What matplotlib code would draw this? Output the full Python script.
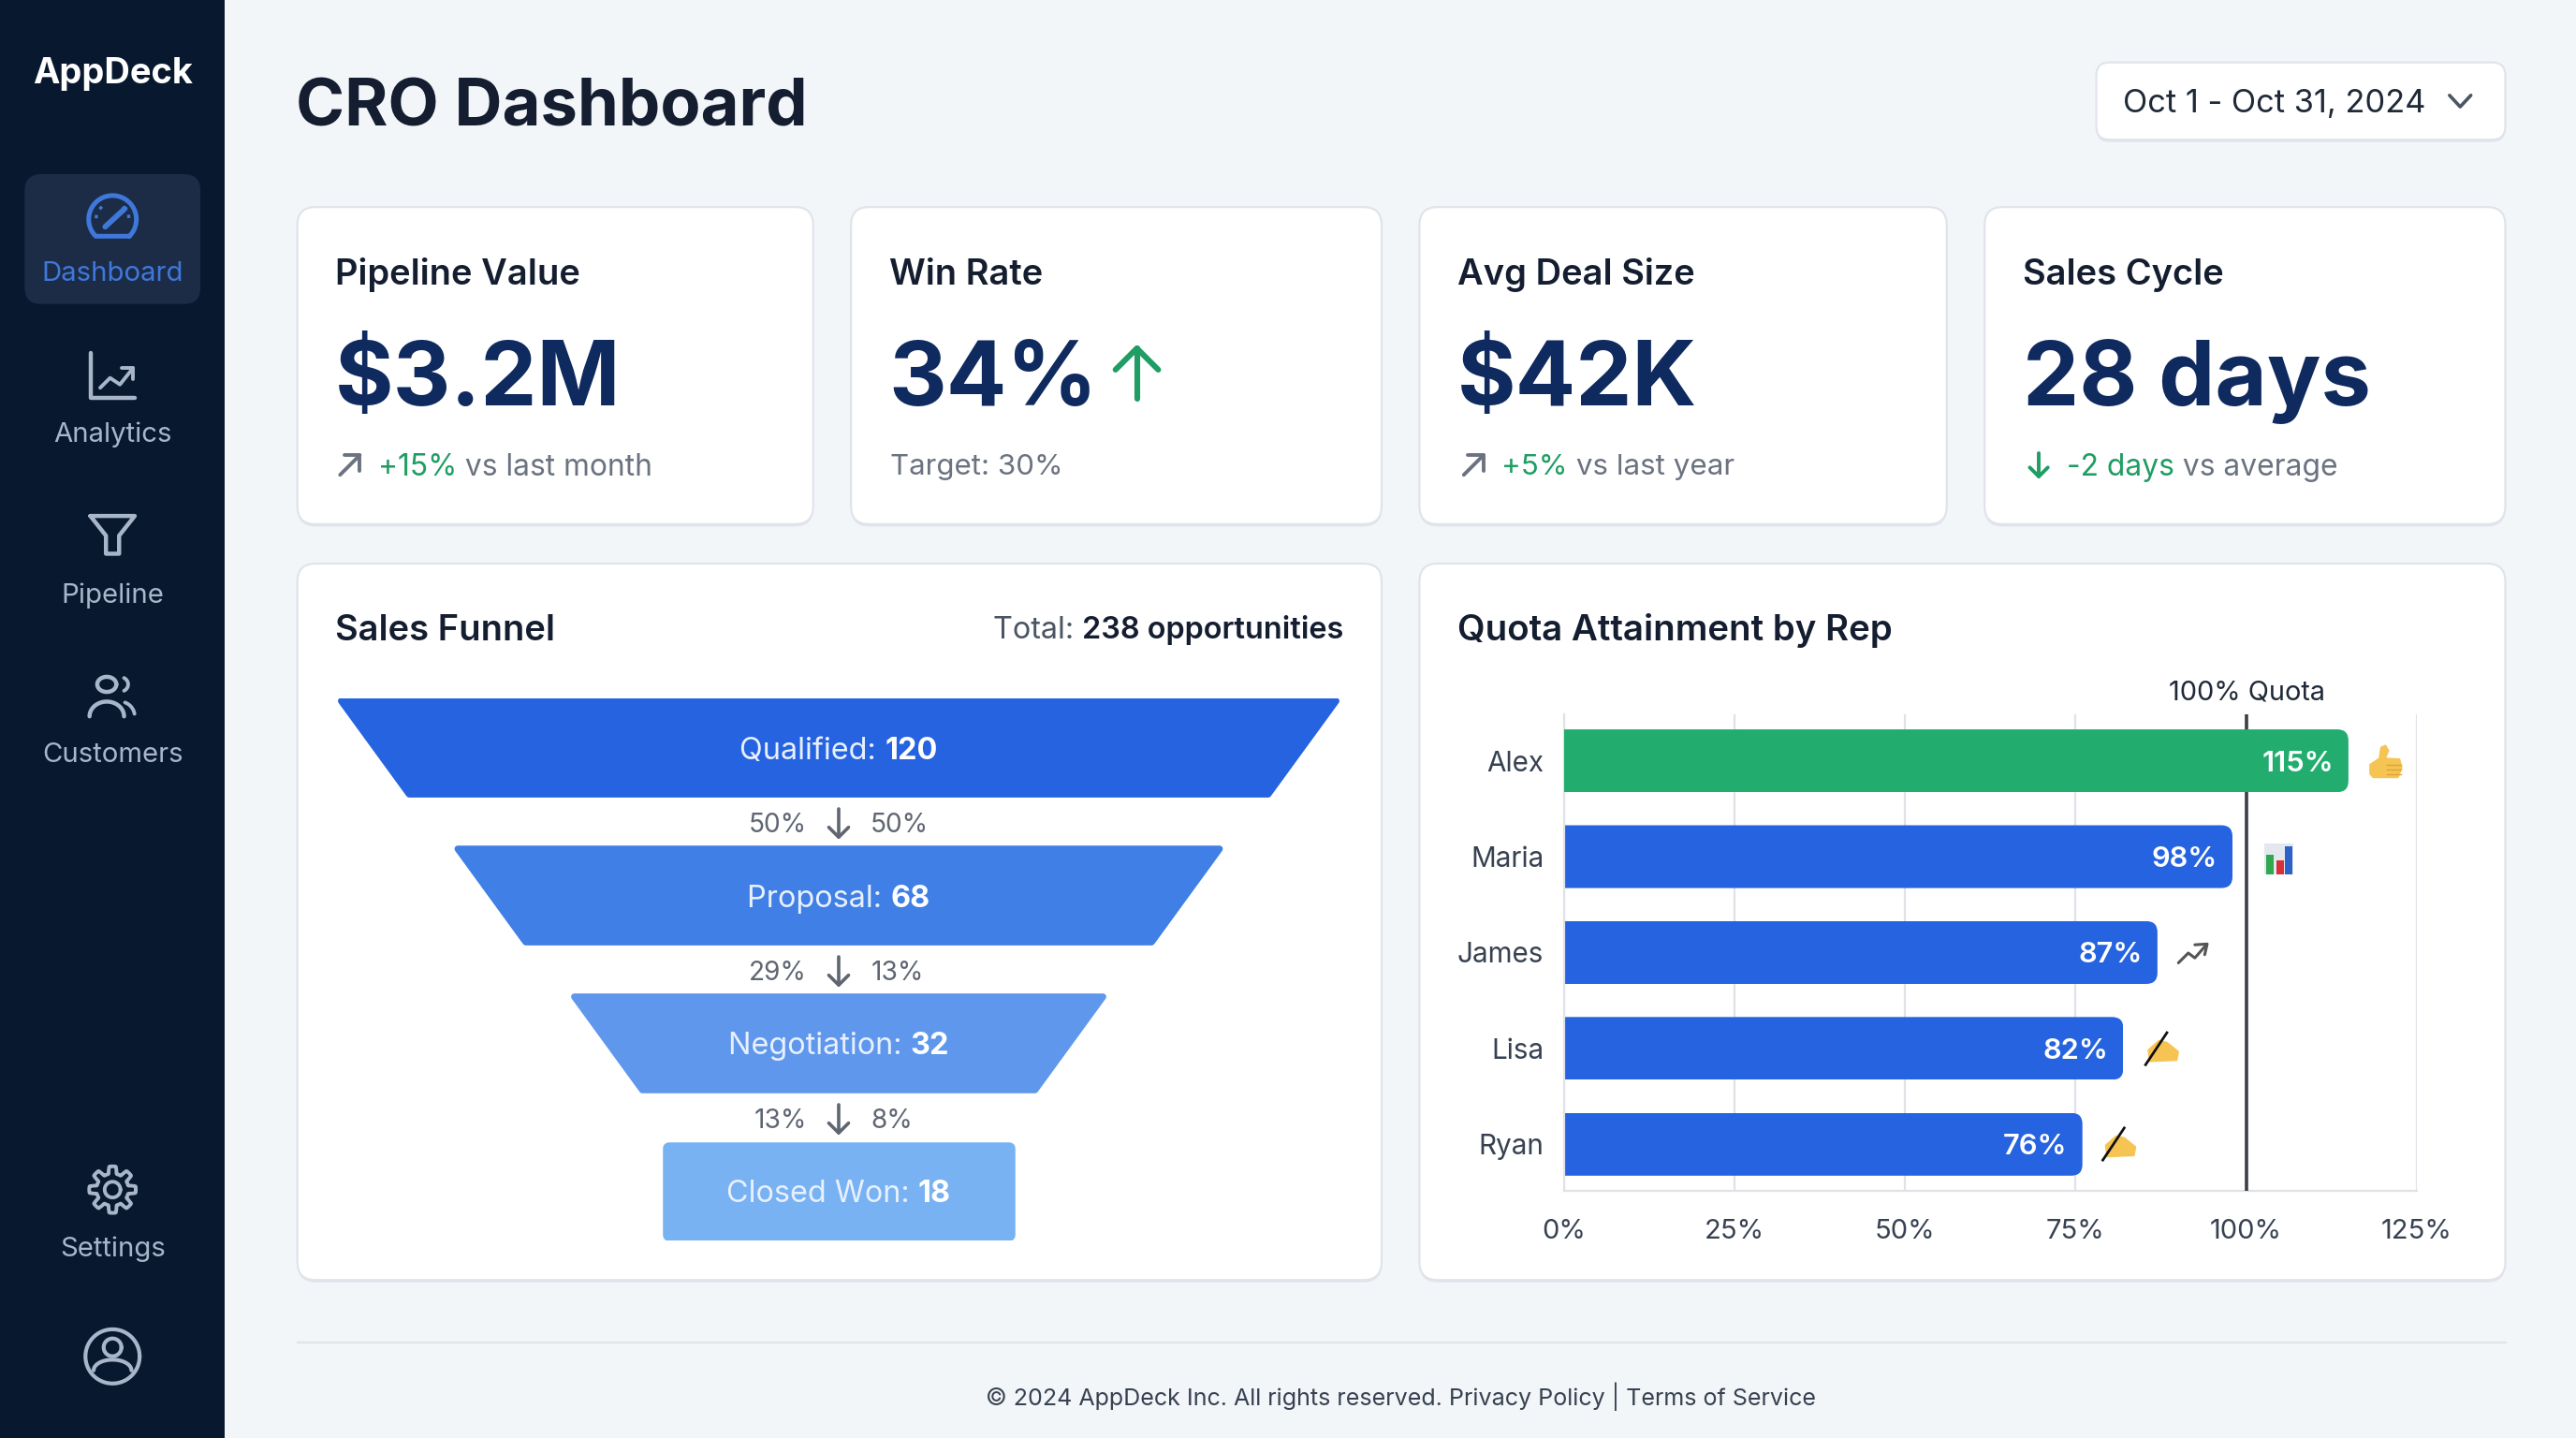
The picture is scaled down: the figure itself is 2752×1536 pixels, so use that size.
import matplotlib
matplotlib.use("Agg")
import matplotlib.pyplot as plt
import numpy as np
from matplotlib.patches import FancyBboxPatch, Polygon, Rectangle
from matplotlib.transforms import IdentityTransform

plt.rcParams["font.family"] = ["Inter", "Roboto", "DejaVu Sans"]

# chart values
rep_names = ["Alex", "Maria", "James", "Lisa", "Ryan"]
rep_attainment = [115, 98, 87, 82, 76]
quota_ticks = [0, 25, 50, 75, 100, 125]

funnel_stages = ["Qualified", "Proposal", "Negotiation", "Closed Won"]
funnel_counts = [120, 68, 32, 18]
funnel_rate_left = ["50%", "29%", "13%"]
funnel_rate_right = ["50%", "13%", "8%"]

kpi_titles = ["Pipeline Value", "Win Rate", "Avg Deal Size", "Sales Cycle"]
kpi_values = ["$3.2M", "34%", "$42K", "28 days"]

nav_labels = ["Dashboard", "Analytics", "Pipeline", "Customers", "Settings"]

W, H = 1568, 1536 / (2752 / 1568)
NAVY = "#0f2a5f"
INK = "#141e30"
GREY = "#6b7280"
GREEN = "#1f9d63"
BLUE = "#2563e0"
ICON = "#a9b6ca"

fig = plt.figure(figsize=(27.52, 15.36), dpi=100, facecolor="#f3f6f9")
root = fig.add_axes([0, 0, 1, 1])
root.set_xlim(0, W)
root.set_ylim(H, 0)
root.axis("off")

# labels and small marks that sit on top of the inset axes
over = fig.add_axes([0, 0, 1, 1], zorder=10)
over.set_xlim(0, W)
over.set_ylim(H, 0)
over.axis("off")
over.patch.set_alpha(0)


def fs(size):
    # size in view units to points
    return size * (2752 / 1568) * 0.72


def put(x, y, s, size, color=INK, weight="normal", ha="left", ax=None, **kw):
    target = ax if ax is not None else root
    return target.text(x, y, s, fontsize=fs(size), color=color, fontweight=weight,
                       ha=ha, va="center_baseline", **kw)


def runs(x, y, parts, size, center=False):
    """Writes differently styled pieces of text one after the other."""
    renderer = fig.canvas.get_renderer()
    scale = W / 2752
    widths = []
    for s, color, weight in parts:
        t = over.text(0, 0, s.replace(" ", "\u00a0"), fontsize=fs(size), fontweight=weight)
        widths.append(t.get_window_extent(renderer).width * scale)
        t.remove()
    if center:
        x = x - sum(widths) / 2
    for (s, color, weight), w in zip(parts, widths):
        over.text(x, y, s.replace(" ", "\u00a0"), fontsize=fs(size), color=color,
                  fontweight=weight, ha="left", va="center_baseline")
        x += w


def stroke(xs, ys, color=ICON, lw=3.2, **kw):
    over.plot(xs, ys, color=color, lw=lw, solid_capstyle="round", solid_joinstyle="round", **kw)


def arc(cx, cy, r, a0, a1, ry=None):
    t = np.radians(np.linspace(a0, a1, 60))
    return cx + r * np.cos(t), cy - (ry if ry else r) * np.sin(t)


def card(x0, y0, x1, y1, rad=11):
    shadow = FancyBboxPatch((x0, y0 + 1.5), x1 - x0, y1 - y0,
                            boxstyle=f"round,pad=0,rounding_size={rad}",
                            fc="#c4ccd6", ec="none", alpha=0.35)
    root.add_patch(shadow)
    root.add_patch(FancyBboxPatch((x0, y0), x1 - x0, y1 - y0,
                                  boxstyle=f"round,pad=0,rounding_size={rad}",
                                  fc="white", ec="#e0e4ea", lw=1.6))


def arrow_up(x, y, h, color, lw=3.0, head=None):
    head = head if head else h * 0.33
    stroke([x, x], [y, y - h], color, lw)
    stroke([x - head, x, x + head], [y - h + head, y - h, y - h + head], color, lw)


def arrow_down(x, y, h, color, lw=2.6, head=None):
    head = head if head else h * 0.33
    stroke([x, x], [y - h, y], color, lw)
    stroke([x - head, x, x + head], [y - head, y, y - head], color, lw)


def arrow_ne(x, y, size, color, lw=2.8):
    stroke([x, x + size], [y, y - size], color, lw)
    stroke([x + size * 0.2, x + size, x + size], [y - size, y - size, y - size * 0.2], color, lw)


# sidebar
root.add_patch(Rectangle((0, 0), 137, H, fc="#08182f", ec="none"))
put(68.5, 43, "AppDeck", 21.7, "white", "bold", ha="center")
root.add_patch(FancyBboxPatch((15, 106), 107, 79, boxstyle="round,pad=0,rounding_size=10",
                              fc="#1c2c47", ec="none"))
nav_y = [165, 263, 361, 458, 758.5]
for label, y, col in zip(nav_labels, nav_y, ["#3f78da"] + [ICON] * 4):
    put(68.5, y, label, 16.7, col, ha="center")

# dashboard gauge icon
gx, gy = arc(68.5, 133.5, 14.5, -45, 225)
stroke(np.r_[gx, gx[0]], np.r_[gy, gy[0]], "#3f78da", 3.6)
stroke([64, 76], [138, 127], "#3f78da", 4.2)
for a in [45, 90, 135, 170, 10]:
    tx, ty = arc(68.5, 133.5, 10, a, a + 1)
    over.plot(tx, ty, color="#3f78da", lw=2.4)
# analytics icon
stroke([55, 55, 82], [215, 242, 242])
stroke([61, 67, 73, 81], [236, 230, 234, 224], lw=2.8)
stroke([74, 81, 81], [224, 224, 231], lw=2.8)
# pipeline icon
stroke([55, 82, 72.5, 72.5, 64.5, 64.5, 55], [314, 314, 326, 337, 337, 326, 314])
# customers icon
hx, hy = arc(65, 416.5, 5.8, 0, 360, ry=4.6)
stroke(hx, hy)
sx, sy = arc(65, 436, 10.5, 0, 180, ry=9)
stroke(sx, sy)
sx, sy = arc(73, 416.5, 5, -60, 60, ry=4.5)
stroke(sx, sy, lw=2.8)
sx, sy = arc(73, 436, 9, 10, 70, ry=9)
stroke(sx, sy, lw=2.8)
# settings icon, gear outline
t = np.linspace(0, 2 * np.pi, 257)
r = 12 + 2.2 * np.clip(np.cos(8 * t) * 2.4, -1, 1)
stroke(68.5 + r * np.cos(t), 724 - r * np.sin(t), lw=2.8)
hx, hy = arc(68.5, 724, 4.8, 0, 360)
stroke(hx, hy, lw=2.8)
# profile icon
hx, hy = arc(68.5, 825.5, 16.5, 0, 360)
stroke(hx, hy, lw=3.0)
hx, hy = arc(68.5, 820, 5.4, 0, 360)
stroke(hx, hy, lw=3.0)
sx, sy = arc(68.5, 834, 11.5, 0, 180, ry=6.5)
stroke(sx, sy, lw=3.0)

# header
put(180, 62, "CRO Dashboard", 40.2, INK, "bold")
card(1276, 38, 1525, 85, rad=8)
put(1292, 61.5, "Oct 1 - Oct 31, 2024", 19.6, "#1f2937")
stroke([1491, 1497.5, 1504], [58, 65, 58], "#4b5563", 2.6)

# kpi cards
kpi_x = [(181, 495), (518, 841), (864, 1185), (1208, 1525)]
for (x0, x1), title, value in zip(kpi_x, kpi_titles, kpi_values):
    card(x0, 126, x1, 319)
    put(x0 + 23, 165, title, 21.7, INK, "semibold")
    put(x0 + 23, 226.5, value, 54.5, NAVY, "bold")

arrow_ne(207, 289, 12, "#6b7280")
runs(230, 282.5, [("+15%", GREEN, "normal"), (" vs last month", GREY, "normal")], 18.1)
arrow_up(692, 243, 31, "#1f9d63", lw=4.4, head=13)
put(542, 282.5, "Target: 30%", 17.8, GREY)
arrow_ne(891, 289, 12, "#6b7280")
runs(914, 282.5, [("+5%", GREEN, "normal"), (" vs last year", GREY, "normal")], 17.9)
arrow_down(1241, 290, 14, GREEN, lw=2.8, head=5.5)
runs(1258, 282.5, [("-2 days", GREEN, "normal"), (" vs average", GREY, "normal")], 18.1)

# funnel panel
card(181, 343, 841, 779)
put(204, 381.5, "Sales Funnel", 21.7, INK, "semibold")
runs(604.5, 381.5, [("Total: ", "#4b5563", "normal"), ("238 opportunities", INK, "semibold")], 18.5)

fun_ax = fig.add_axes([204 / W, 1 - 755 / H, 613 / W, 330 / H])
fun_ax.set_xlim(-1, 1)
fun_ax.set_ylim(3.667, 0)
fun_ax.axis("off")
fun_colors = ["#2563e0", "#3f7fe6", "#5f97ec", "#78b2f3"]
for i, (stage, count, color) in enumerate(zip(funnel_stages, funnel_counts, fun_colors)):
    if i < 3:
        top = 1 - 0.2315 * i - 0.012
        bottom = top - 0.135
        inset, lw = 0.018, 5
    else:
        # last tier is a plain rounded box
        top = bottom = 0.338
        inset, lw = 0.04, 9
    fun_ax.add_patch(Polygon([(-top, i + inset), (top, i + inset),
                              (bottom, i + 0.667 - inset), (-bottom, i + 0.667 - inset)],
                             closed=True, fc=color, ec=color, lw=lw, joinstyle="round"))
    y_view = 425 + 90 * i + 30
    runs(510.5, y_view, [(f"{stage}: ", "#e8f0fd", "normal"), (str(count), "white", "bold")],
         18.5, center=True)
for i, (left, right) in enumerate(zip(funnel_rate_left, funnel_rate_right)):
    y_view = 500.5 + 90 * i
    put(491, y_view, left, 16, "#5f6672", ha="right", ax=over)
    put(530, y_view, right, 16, "#5f6672", ax=over)
    arrow_down(510.5, y_view + 9, 17, "#5f6672", lw=2.6, head=6)

# quota panel
card(864, 343, 1525, 779)
put(887, 381.5, "Quota Attainment by Rep", 21.9, INK, "semibold")
put(1367.5, 420, "100% Quota", 16.5, "#1f2937", ha="center")

ax = fig.add_axes([952 / W, 1 - 725 / H, (1471 - 952) / W, (725 - 435) / H])
ax.patch.set_alpha(0)
ax.set_xlim(0, 125)
ax.set_ylim(4.49, -0.48)
ax.set_xticks(quota_ticks)
ax.set_xticklabels([f"{q}%" for q in quota_ticks], fontsize=fs(16.6), color="#374151")
ax.set_yticks(range(len(rep_names)))
ax.set_yticklabels(rep_names, fontsize=fs(16.9), color="#374151")
ax.tick_params(axis="y", length=0, pad=15.5)
ax.tick_params(axis="x", length=0, pad=21)
ax.grid(axis="x", color="#dfe2e7", lw=1.6)
ax.set_axisbelow(True)
for side in ["top", "right"]:
    ax.spines[side].set_visible(False)
for side in ["left", "bottom"]:
    ax.spines[side].set_color("#dfe2e7")
    ax.spines[side].set_linewidth(1.6)

bar_colors = ["#22ad6f"] + [BLUE] * 4
bars = ax.barh(range(len(rep_names)), rep_attainment, height=0.655, color=bar_colors, zorder=2)
ax.axvline(100, color="#3c4046", lw=2.6, zorder=3)
# green bar passes over the quota line
bars[0].set_zorder(4)
for bar, val in zip(bars, rep_attainment):
    (px0, py0), (px1, py1) = ax.transData.transform(
        [(0, bar.get_y()), (val, bar.get_y() + bar.get_height())])
    clip = FancyBboxPatch((px0 - 30, min(py0, py1)), px1 - px0 + 30, abs(py1 - py0),
                          boxstyle="round,pad=0,rounding_size=12", transform=IdentityTransform())
    bar.set_clip_path(clip)
    ax.annotate(f"{val}%", (val, bar.get_y() + bar.get_height() / 2), xytext=(-16, 0),
                textcoords="offset pixels", ha="right", va="center_baseline", color="white",
                fontsize=fs(17.6), fontweight="semibold", zorder=5)

# little marks next to the bars
over.add_patch(Rectangle((1378, 513.5), 18, 18.5, fc="#e3e8ee", ec="none"))
over.add_patch(Rectangle((1379.5, 520), 4.5, 12, fc="#2fa84f", ec="none"))
over.add_patch(Rectangle((1385.5, 523.5), 4.5, 8.5, fc="#d8303a", ec="none"))
over.add_patch(Rectangle((1391, 515), 4.5, 17, fc="#2b62c8", ec="none"))
stroke([1326, 1332, 1336, 1343], [586, 580, 583, 575], "#555555", 2.2)
stroke([1336, 1343.5, 1342], [575, 574.5, 581], "#555555", 2.2)


def thumb(x, y):
    outline = [(0.6, 12.3), (6.3, 8.5), (7.2, 1.9), (10, 0.6), (11.9, 3.8), (10, 8.5),
               (18.6, 8.9), (20, 14.2), (17.7, 20.2), (2.5, 20.2), (0.6, 18)]
    over.add_patch(Polygon([(x + a, y + b) for a, b in outline], closed=True,
                           fc="#f5c452", ec="#f5c452", lw=1.0, joinstyle="round"))
    for dy in [12.5, 15.5, 18]:
        over.plot([x + 11, x + 19.5], [y + dy, y + dy], color="#dfa334", lw=1.0)


def hand(x, y):
    outline = [(2.6, 11), (9, 5.4), (14, 6.4), (21, 12), (20, 17.3), (3.5, 18)]
    over.add_patch(Polygon([(x + a, y + b) for a, b in outline], closed=True,
                           fc="#f6c453", ec="#f6c453", lw=1.0, joinstyle="round"))
    over.plot([x + 14, x + 1], [y + 0.5, y + 20], color="#111111", lw=2.0)


thumb(1442, 453)
hand(1305, 628)
hand(1279, 686)

# footer
root.plot([181, 1525], [817, 817], color="#e0e4e9", lw=1.6)
put(852.5, 848, "\u00a9 2024 AppDeck Inc. All rights reserved. Privacy Policy | Terms of Service", 14.3,
    "#374151", ha="center")

fig.savefig("out.png", dpi=100, facecolor=fig.get_facecolor())
